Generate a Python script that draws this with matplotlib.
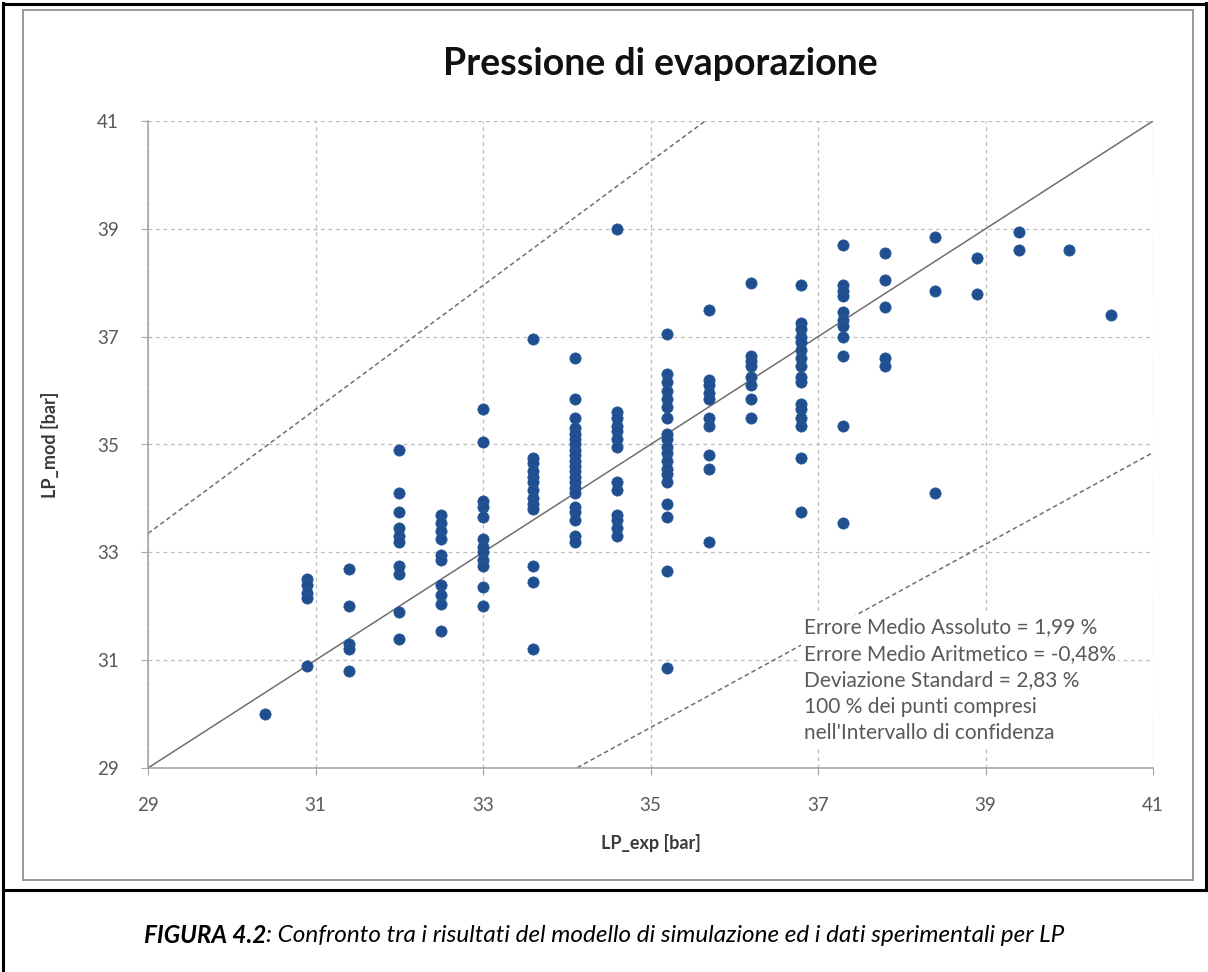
import matplotlib
matplotlib.use('Agg')
import matplotlib.pyplot as plt
from matplotlib.patches import Rectangle
from matplotlib.lines import Line2D
import numpy as np

plt.rcParams['font.family'] = ['Lato', 'DejaVu Sans']

# experimental pressure levels and the model values measured at each level
lp_exp_levels = [30.4, 30.9, 31.4, 32.0, 32.5, 33.0, 33.6, 34.1, 34.6, 35.2,
                 35.7, 36.2, 36.8, 37.3, 37.8, 38.4, 38.9, 39.4, 40.0, 40.5]
lp_mod_by_level = [
    [30.0],
    [32.5, 32.4, 32.25, 32.15, 30.9],
    [32.7, 32.0, 31.3, 31.2, 30.8],
    [34.9, 34.1, 33.75, 33.45, 33.3, 33.2, 32.75, 32.6, 31.9, 31.4],
    [33.7, 33.55, 33.4, 33.25, 32.95, 32.85, 32.4, 32.2, 32.05, 31.55],
    [35.65, 35.05, 33.95, 33.85, 33.65, 33.25, 33.1, 33.0, 32.85, 32.75, 32.35, 32.0],
    [36.95, 34.75, 34.65, 34.5, 34.4, 34.3, 34.15, 34.0, 33.9, 33.8, 32.75, 32.45, 31.2],
    [36.6, 35.85, 35.5, 35.3, 35.2, 35.1, 35.0, 34.9, 34.8, 34.7, 34.6, 34.5, 34.4,
     34.3, 34.2, 34.1, 33.85, 33.75, 33.6, 33.3, 33.2],
    [39.0, 35.6, 35.5, 35.35, 35.25, 35.1, 34.95, 34.3, 34.15, 33.7, 33.6, 33.45, 33.3],
    [37.05, 36.3, 36.15, 36.0, 35.85, 35.7, 35.5, 35.2, 35.1, 34.95, 34.85, 34.7,
     34.55, 34.45, 34.3, 33.9, 33.65, 32.65, 30.85],
    [37.5, 36.2, 36.1, 35.95, 35.85, 35.5, 35.35, 34.8, 34.55, 33.2],
    [38.0, 36.65, 36.55, 36.45, 36.25, 36.1, 35.85, 35.5],
    [37.95, 37.25, 37.15, 37.0, 36.9, 36.75, 36.6, 36.45, 36.25, 36.15, 35.75,
     35.65, 35.5, 35.35, 34.75, 33.75],
    [38.7, 37.95, 37.85, 37.75, 37.45, 37.3, 37.2, 37.0, 36.65, 35.35, 33.55],
    [38.55, 38.05, 37.55, 36.6, 36.45],
    [38.85, 37.85, 34.1],
    [38.45, 37.8],
    [38.95, 38.6],
    [38.6],
    [37.4],
]
band = 0.15  # +/- 15 % confidence band
ticks = [29, 31, 33, 35, 37, 39, 41]
stats_lines = [
    "Errore Medio Assoluto = 1,99 %",
    "Errore Medio Aritmetico = -0,48%",
    "Deviazione Standard = 2,83 %",
    "100 % dei punti compresi",
    "nell'Intervallo di confidenza",
]

lp_exp = []
lp_mod = []
for x, ys in zip(lp_exp_levels, lp_mod_by_level):
    lp_exp += [x] * len(ys)
    lp_mod += ys

fig = plt.figure(figsize=(12.08, 9.72), dpi=100)
fig.patch.set_facecolor('white')

# page borders and chart frame
W, H = 1208.0, 972.0
def fx(px): return px / W
def fy(py): return 1 - py / H
fig.add_artist(Line2D([fx(3), fx(3)], [fy(3), fy(972)], color='black', lw=2.2))
fig.add_artist(Line2D([fx(3), fx(1206)], [fy(4), fy(4)], color='black', lw=2.2))
fig.add_artist(Line2D([fx(1206), fx(1206)], [fy(3), fy(890)], color='black', lw=2.2))
fig.add_artist(Line2D([fx(3), fx(1208)], [fy(890), fy(890)], color='black', lw=2.2))
fig.add_artist(Rectangle((fx(23), fy(880)), fx(1193) - fx(23), fy(10) - fy(880),
                         fill=False, edgecolor='#9a9a9a', lw=1.4))

ax = fig.add_axes([fx(148), fy(768), fx(1153) - fx(148), fy(121) - fy(768)])
ax.set_xlim(29, 41)
ax.set_ylim(29, 41)
ax.set_xticks(ticks)
ax.set_yticks(ticks)
ax.grid(True, color='#bdbdbd', linestyle=(0, (3, 3)), lw=0.9)
ax.set_axisbelow(True)
for s in ['top', 'right']:
    ax.spines[s].set_visible(False)
for s in ['left', 'bottom']:
    ax.spines[s].set_color('#a6a6a6')
    ax.spines[s].set_linewidth(1.2)
ax.tick_params(colors='#a6a6a6', labelcolor='#595959', labelsize=13.5,
               length=5, direction='out', pad=16)

line = np.array([29, 41])
ax.plot(line, line, color='#6f6f6f', lw=1.1, zorder=2)
ax.plot(line, line * (1 + band), color='#6f6f6f', lw=1.1, ls=(0, (3, 2)), zorder=2)
ax.plot(line, line * (1 - band), color='#6f6f6f', lw=1.1, ls=(0, (3, 2)), zorder=2)

ax.scatter(lp_exp, lp_mod, s=66, color='#1f4f8f', edgecolors='#2a5a9a',
           linewidths=0.5, zorder=3, clip_on=False)

ax.set_xlabel('LP_exp [bar]', fontsize=13, fontweight='bold', color='#3a3a3a', labelpad=14)
ax.set_ylabel('LP_mod [bar]', fontsize=13, fontweight='bold', color='#3a3a3a', labelpad=27)

fig.text(fx(660), fy(64), 'Pressione di evaporazione', fontsize=27, fontweight='bold',
         ha='center', va='center', color='#111111')

ax.text(36.83, 30.63, '\n'.join(stats_lines), fontsize=15, color='#595959',
        ha='left', va='center', linespacing=1.4, zorder=4,
        bbox=dict(facecolor='white', edgecolor='none', pad=2))

# caption: bold italic label followed by italic text
cap1 = fig.text(0, fy(935), 'FIGURA 4.2', fontsize=17.5, fontstyle='italic',
                fontweight='bold', va='center', ha='left')
cap2 = fig.text(0, fy(935), ': Confronto tra i risultati del modello di simulazione ed i dati sperimentali per LP',
                fontsize=17.5, fontstyle='italic', va='center', ha='left')
fig.canvas.draw()
r = fig.canvas.get_renderer()
w1 = cap1.get_window_extent(r).width
w2 = cap2.get_window_extent(r).width
x0 = (W - w1 - w2) / 2
cap1.set_x(x0 / W)
cap2.set_x((x0 + w1) / W)

fig.savefig('out.png', dpi=100)
